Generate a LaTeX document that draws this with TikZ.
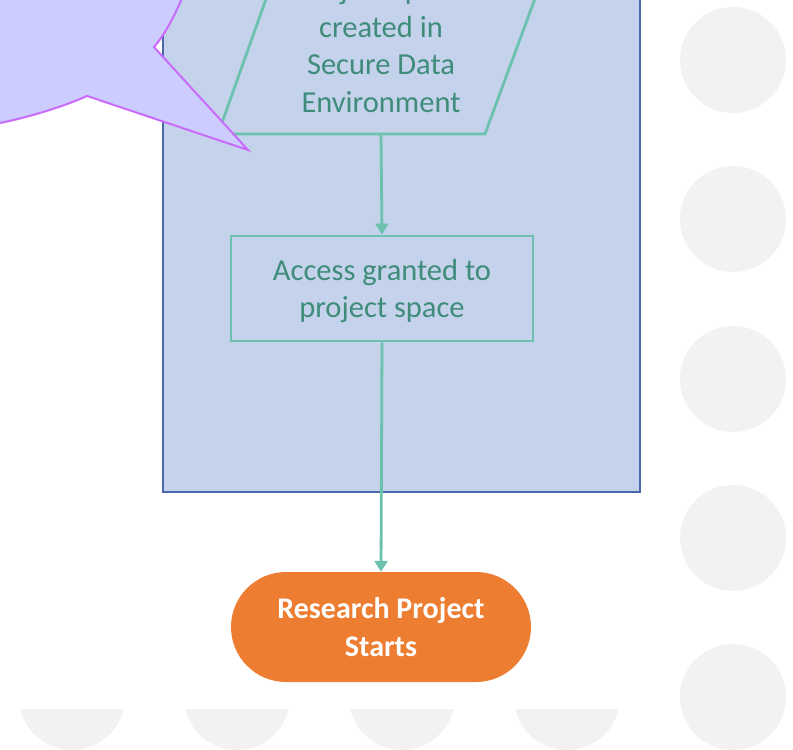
\documentclass[tikz,border=0pt]{standalone}
\usepackage{fontspec}
\setmainfont{Carlito}
\usetikzlibrary{arrows.meta}
\definecolor{teal1}{HTML}{6CC1AF}
\definecolor{tealtext}{HTML}{3F8C7B}
\definecolor{bluefill}{HTML}{C4D3EB}
\definecolor{blueline}{HTML}{4A67AD}
\definecolor{dotgrey}{HTML}{F2F2F2}
\definecolor{orange1}{HTML}{ED7D31}
\definecolor{bubfill}{HTML}{CCCCFF}
\definecolor{bubline}{HTML}{C86BFA}
\tikzset{
  flowtext/.style={text=tealtext, align=center, font=\fontsize{30.5}{37.5}\selectfont, inner sep=0pt},
  procbox/.style={draw=teal1, line width=2.8pt, minimum width=302pt, minimum height=105pt, flowtext},
  termbox/.style={fill=orange1, rounded corners=55pt, minimum width=300pt, minimum height=110pt, text=white, align=center, font=\fontsize{30}{37.5}\selectfont\bfseries, inner sep=0pt},
  conn/.style={draw=teal1, line width=2.8pt, -{Triangle[width=13pt,length=11pt]}},
  dot/.style={fill=dotgrey},
  container/.style={fill=bluefill, draw=blueline, line width=1.5pt},
  bubble/.style={fill=bubfill, draw=bubline, line width=2pt, line join=miter}
}
\begin{document}
\begin{tikzpicture}[x=1pt, y=-1pt]
\useasboundingbox (0,0) rectangle (793,750);
\clip (0,0) rectangle (793,750);
% grey dots
\foreach \cy in {60,219,379,538,697} \fill[dot] (733,\cy) circle (53);
\begin{scope}
  \clip (0,709) rectangle (660,750);
  \foreach \cx in {72,237,402,567} \fill[dot] (\cx,697) circle (53);
\end{scope}
% container
\draw[container] (163,-10) rectangle (640,492);
% parallelogram
\draw[teal1, line width=2.8pt, line join=miter] (218,134) -- (485,134) -- (540,-15) -- (271,-15) -- cycle;
\coordinate (pbot) at (381,134);
\node[flowtext] (ptext) at (381,48.5) {\strut Project space\\\strut created in\\\strut Secure Data\\\strut Environment};
% process box
\node[procbox, text depth=0pt] (access) at (382,288.5) {};
\node[flowtext] (accesstext) at (382,291.5) {\strut Access granted to\\\strut project space};
% terminal
\node[termbox] (term) at (381,627) {};
\node[termbox, fill=none, minimum width=0pt, minimum height=0pt] (termtext) at (381,630) {\strut Research Project\\\strut Starts};
% connectors
\draw[conn] (pbot) -- (access.north);
\draw[conn] (access.south) -- (term.north);
% speech bubble
\draw[bubble] (-10,125) -- (0,123) .. controls (30,117) and (65,106) .. (87,96) -- (248,150) -- (154,47) .. controls (163,37) and (176,15) .. (185,-10) -- (-10,-10) -- cycle;
\end{tikzpicture}
\end{document}
